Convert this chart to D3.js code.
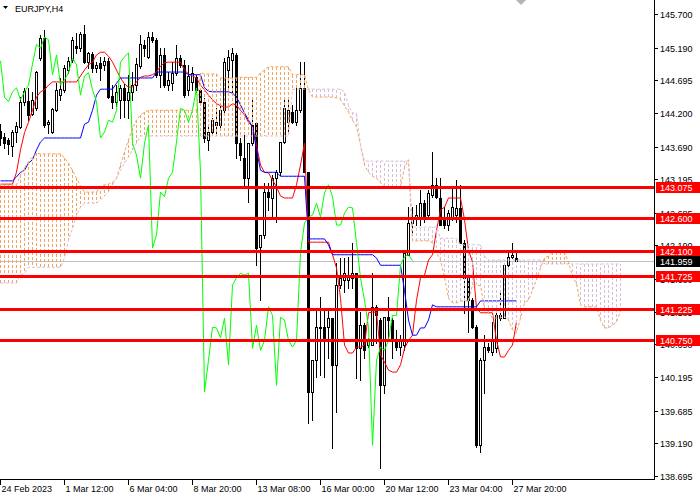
<!DOCTYPE html>
<html><head><meta charset="utf-8">
<script src="https://cdn.jsdelivr.net/npm/d3@7/dist/d3.min.js"></script>
<style>html,body{margin:0;padding:0;background:#fff;}svg{display:block;}text{font-family:"Liberation Sans",Arial,sans-serif;font-size:9px;}</style>
</head><body>
<svg id="chart" width="700" height="500"></svg>
<script>
const symbolTitle = "EURJPY,H4";
const open = [143.93,143.84,143.79,143.70,143.91,143.99,144.37,144.38,144.18,144.27,
 145.03,145.34,144.03,143.91,144.24,144.47,144.55,144.85,145.00,145.21,
 145.18,145.40,144.97,145.09,144.88,144.96,144.93,144.99,144.46,144.37,
 144.40,144.58,144.40,144.52,144.62,144.91,145.23,145.05,145.35,145.31,
 144.78,145.08,144.62,144.65,144.81,145.03,144.93,144.55,144.67,144.74,
 144.55,144.37,143.79,143.91,144.02,144.02,144.24,144.85,145.00,145.08,
 143.74,143.52,143.21,143.74,144.05,142.17,142.35,143.00,142.91,143.21,
 143.30,143.76,144.06,144.21,144.06,144.24,144.58,143.30,139.97,140.45,
 140.95,140.95,140.95,141.09,140.38,141.59,141.67,141.67,141.70,141.77,
 140.63,140.98,140.68,140.68,141.26,141.06,140.07,141.10,141.06,140.75,
 140.65,140.68,142.05,142.53,142.61,142.62,142.83,142.65,142.96,143.11,
 142.91,142.61,142.50,142.61,142.65,142.76,142.23,141.70,141.36,140.95,
 139.16,140.45,140.65,140.57,140.63,141.09,141.09,141.89,142.02,142.00];
const high = [144.03,143.90,143.82,143.94,144.06,144.44,144.58,144.58,144.52,144.84,
 145.38,145.46,144.09,144.27,144.65,144.73,144.93,145.05,145.35,145.41,
 145.43,145.53,145.12,145.12,144.97,145.05,145.05,145.03,144.62,144.62,
 144.62,144.64,144.78,144.82,145.03,145.38,145.31,145.43,145.43,145.34,
 145.18,145.18,144.82,144.97,145.23,145.08,145.00,144.93,144.90,144.78,
 144.58,144.43,144.02,144.12,144.27,144.32,145.03,145.15,145.18,145.11,
 143.82,143.87,143.74,144.40,144.06,142.35,143.14,143.14,143.26,143.33,
 143.76,144.43,144.40,144.32,144.58,144.97,144.97,143.30,140.45,141.21,
 141.41,141.24,141.21,141.09,141.92,142.00,142.00,142.02,142.23,141.77,
 141.18,141.01,140.79,141.77,141.29,141.09,141.10,141.41,141.09,140.91,
 140.83,142.08,142.77,142.77,142.80,143.03,142.88,143.03,143.61,143.21,
 143.21,142.77,142.73,143.08,143.18,143.11,142.27,141.70,141.39,140.98,
 140.48,140.83,140.71,141.03,141.17,141.51,141.89,142.09,142.23,142.08];
const low = [143.71,143.67,143.58,143.55,143.76,143.97,144.32,144.09,144.17,144.24,
 145.00,143.99,143.90,143.90,144.23,144.40,144.52,144.81,144.97,145.11,
 145.14,144.96,144.88,144.82,144.82,144.70,144.85,144.43,144.27,144.31,
 144.12,144.14,144.12,144.40,144.55,144.88,145.06,145.03,145.28,144.74,
 144.59,144.59,144.55,144.55,144.78,144.90,144.44,144.47,144.55,144.52,
 144.32,143.76,143.64,143.87,143.87,143.97,144.17,144.58,144.47,143.52,
 143.49,143.06,142.85,143.71,141.89,141.36,142.30,142.73,142.62,142.54,
 143.26,143.74,143.91,144.05,144.02,144.21,143.30,139.50,139.54,140.20,
 140.23,140.20,140.48,139.12,139.67,141.54,141.48,141.54,141.54,140.18,
 140.15,140.48,140.65,140.68,140.71,138.82,139.95,140.75,140.48,140.60,
 140.53,140.60,142.05,142.39,142.50,142.50,142.54,142.62,142.93,142.91,
 142.50,142.45,142.42,142.58,142.54,142.23,141.17,140.88,140.94,139.13,
 139.06,139.95,140.57,140.53,140.57,141.06,141.09,141.86,142.00,141.94];
const close = [143.82,143.74,143.73,143.91,144.00,144.37,144.53,144.17,144.40,144.82,
 145.34,144.02,144.06,144.26,144.55,144.56,144.88,144.99,145.31,145.18,
 145.40,144.97,145.11,144.88,144.93,144.88,144.99,144.44,144.37,144.52,
 144.58,144.40,144.52,144.62,144.94,145.24,145.18,145.35,145.31,144.78,
 145.08,144.62,144.70,144.81,145.03,144.93,144.47,144.76,144.81,144.55,
 144.37,143.82,143.91,144.09,144.06,144.24,144.97,145.05,145.11,143.74,
 143.56,143.21,143.74,144.02,142.15,142.35,143.00,142.93,143.21,143.30,
 143.76,144.27,144.24,144.06,144.24,144.58,143.30,139.97,140.45,140.95,
 140.94,140.79,141.09,140.38,141.59,141.70,141.77,141.74,141.77,140.63,
 140.98,140.60,140.75,141.26,141.13,140.07,141.10,141.06,140.75,140.65,
 140.75,142.08,142.53,142.62,142.65,142.83,142.62,142.99,143.11,142.93,
 142.50,142.50,142.68,142.77,142.76,142.23,141.70,141.36,140.95,139.16,
 140.45,140.65,140.60,140.75,141.13,141.13,141.89,142.02,142.05,141.959];
const tenkan = [143.12,143.12,143.12,143.12,143.30,143.64,143.90,144.06,144.24,144.44,
 144.52,144.55,144.62,144.67,144.67,144.67,144.67,144.67,144.67,144.67,
 144.76,144.85,144.93,144.97,145.08,145.12,145.12,145.06,144.97,144.85,
 144.73,144.64,144.59,144.59,144.67,144.74,144.76,144.76,144.78,144.82,
 144.91,144.96,144.97,144.97,144.97,144.97,144.85,144.79,144.76,144.73,
 144.62,144.55,144.47,144.40,144.34,144.31,144.29,144.29,144.34,144.32,
 144.24,144.17,144.06,143.99,143.71,143.41,143.30,143.29,143.18,143.08,
 142.94,142.91,142.91,142.91,143.11,143.41,143.74,142.24,142.24,142.24,
 142.24,142.24,142.24,142.05,141.85,141.39,140.68,140.56,140.56,140.65,
 140.65,140.68,141.17,141.18,141.18,140.53,140.42,140.30,140.27,140.27,
 140.38,140.63,140.75,140.83,141.36,141.70,141.74,141.97,142.05,142.42,
 142.73,142.77,142.91,142.91,142.91,142.91,142.58,142.12,141.94,141.24,
 141.17,141.17,141.17,141.17,140.75,140.50,140.50,140.60,140.68,141.03];
const kijun = [143.17,143.17,143.17,143.17,143.23,143.30,143.33,143.44,143.49,143.64,
 143.76,143.82,143.82,143.82,143.82,143.82,143.82,143.82,143.82,143.82,
 143.82,144.03,144.06,144.24,144.47,144.56,144.56,144.56,144.56,144.65,
 144.73,144.73,144.73,144.73,144.73,144.73,144.73,144.73,144.73,144.82,
 144.82,144.82,144.82,144.82,144.82,144.82,144.82,144.78,144.78,144.78,
 144.78,144.58,144.53,144.52,144.52,144.52,144.52,144.52,144.50,144.44,
 144.32,144.20,144.09,143.99,143.64,143.33,143.30,143.30,143.30,143.30,
 143.24,143.24,143.24,143.24,143.24,143.24,143.24,142.29,142.29,142.29,
 142.29,142.29,142.20,142.05,142.05,142.05,142.05,142.05,142.05,142.05,
 142.05,142.05,142.05,142.05,142.00,141.89,141.89,141.89,141.89,141.89,
 141.89,141.51,141.06,140.83,140.83,140.94,140.94,141.06,141.29,141.26,
 141.26,141.26,141.26,141.26,141.26,141.26,141.26,141.26,141.26,141.26,
 141.35,141.35,141.35,141.35,141.35,141.35,141.35,141.35,141.35,141.35];
const spanA = [143.11,143.11,143.11,143.11,143.11,143.26,143.37,143.46,143.53,143.59,
 143.58,143.58,143.58,143.58,143.58,143.58,143.52,143.44,143.33,143.21,
 143.09,143.00,143.00,143.00,143.00,143.09,143.11,143.12,143.15,143.21,
 143.41,143.61,143.79,143.97,144.09,144.17,144.21,144.24,144.24,144.24,
 144.24,144.24,144.24,144.24,144.24,144.24,144.24,144.24,144.24,144.24,
 144.81,144.79,144.79,144.79,144.79,144.73,144.73,144.73,144.73,144.73,
 144.74,144.74,144.74,144.74,144.74,144.81,144.85,144.90,144.90,144.90,
 144.90,144.90,144.90,144.78,144.78,144.78,144.78,144.55,144.44,144.44,
 144.44,144.44,144.44,144.44,144.43,144.40,144.31,144.21,144.09,143.99,
 143.71,143.41,143.30,143.24,143.21,143.14,143.09,143.08,143.08,143.08,
 143.08,143.37,143.49,142.26,142.26,142.26,142.26,142.26,142.23,142.08,
 141.97,141.71,141.39,141.32,141.32,141.35,141.35,141.35,141.59,141.59,
 141.58,141.24,141.17,141.09,141.09,141.09,141.12,141.06,140.91,140.86,
 141.09,141.32,141.36,141.51,141.67,141.85,142.00,142.03,142.09,142.09,
 142.09,142.09,141.94,141.71,141.61,141.29,141.26,141.26,141.26,141.26,
 141.06,140.94,140.94,140.98,141.03,141.20];
const spanB = [141.62,141.62,141.62,141.62,141.62,141.74,141.77,141.86,141.86,141.86,
 141.86,141.86,141.86,141.86,141.86,141.86,142.00,142.27,142.45,142.65,
 142.77,142.83,142.83,142.83,142.83,142.88,142.94,143.00,143.11,143.21,
 143.33,143.44,143.53,143.64,143.74,143.85,143.85,143.85,143.85,143.85,
 143.85,143.85,143.85,143.85,143.85,143.85,143.85,143.85,143.85,143.85,
 143.85,143.85,143.85,143.85,143.85,143.85,143.85,143.85,143.85,143.85,
 143.85,143.85,143.85,143.85,143.85,143.85,143.85,143.85,143.85,143.85,
 143.85,143.85,143.85,144.56,144.56,144.56,144.56,144.56,144.56,144.56,
 144.56,144.56,144.56,144.56,144.56,144.56,144.52,144.31,144.20,144.20,
 143.71,143.47,143.47,143.47,143.47,143.47,143.47,143.47,143.47,143.47,
 143.47,143.47,143.47,142.47,142.47,142.47,142.47,142.47,142.47,142.47,
 142.30,142.30,142.30,142.30,142.30,142.20,142.20,142.20,142.20,142.20,
 142.20,142.03,141.97,141.97,141.97,141.97,141.97,141.97,141.97,141.97,
 141.97,141.97,141.97,141.97,141.97,141.97,141.91,141.91,141.91,141.91,
 141.91,141.91,141.91,141.91,141.91,141.91,141.91,141.91,141.91,141.91,
 141.91,141.91,141.91,141.91,141.91,141.91];
const chikouShift = 26;
const levels = [143.075, 142.600, 142.100, 141.725, 141.225, 140.750];
const bid = 141.959;
const priceTicks = [145.700,145.190,144.695,144.200,143.690,143.195,142.685,142.190,141.680,141.185,140.690,140.195,139.685,139.190,138.695];
const timeTickBars = [0,16,32,48,64,80,96,112,128];
const timeLabels = ["24 Feb 2023","1 Mar 12:00","6 Mar 04:00","8 Mar 20:00","13 Mar 08:00","16 Mar 00:00","20 Mar 12:00","23 Mar 04:00","27 Mar 20:00"];

const svg = d3.select("#chart");
const plotW = 654, plotH = 479;
const x = d3.scaleLinear().domain([0, 1]).range([0.5, 4.5]);
const y = d3.scaleLinear().domain([138.695, 145.700]).range([476, 14]);
const fmt = d3.format(".3f");
const py = v => Math.round(y(v)) + 0.5;

svg.append("rect").attr("width",700).attr("height",500).attr("fill","#fff");
svg.append("defs").append("clipPath").attr("id","plot")
  .append("rect").attr("x",0).attr("y",0).attr("width",plotW).attr("height",plotH);
const plot = svg.append("g").attr("clip-path","url(#plot)");

// bid line
plot.append("line").attr("x1",0).attr("x2",plotW).attr("y1",py(bid)).attr("y2",py(bid))
  .attr("stroke","#c0c0c0").attr("stroke-width",1);

// candles
const bars = d3.range(close.length);
const cg = plot.append("g");
cg.selectAll("line").data(bars).join("line")
  .attr("x1",k=>x(k)).attr("x2",k=>x(k))
  .attr("y1",k=>Math.round(y(high[k]))).attr("y2",k=>Math.round(y(low[k]))+1)
  .attr("stroke","#000").attr("stroke-width",1);
cg.selectAll("rect").data(bars).join("rect").each(function(k){
  const top = Math.round(y(Math.max(open[k],close[k])));
  const bot = Math.round(y(Math.min(open[k],close[k])));
  const r = d3.select(this);
  if (close[k] < open[k]) {
    r.attr("x",x(k)-1.5).attr("y",top).attr("width",3).attr("height",Math.max(1,bot-top+1)).attr("fill","#000");
  } else {
    r.attr("x",x(k)-1).attr("y",top+0.5).attr("width",2).attr("height",Math.max(1,bot-top))
     .attr("fill","#fff").attr("stroke","#000").attr("stroke-width",1);
  }
});

const lineGen = arr => d3.line().x((d,i)=>x(i)).y(d=>y(d))(arr);

// tenkan / kijun
plot.append("path").attr("d",lineGen(tenkan)).attr("fill","none").attr("stroke","#ff0000").attr("stroke-width",1);
plot.append("path").attr("d",lineGen(kijun)).attr("fill","none").attr("stroke","#0000ff").attr("stroke-width",1);

// cloud histogram
const cloudBars = d3.range(spanA.length);
plot.append("g").selectAll("line").data(cloudBars).join("line")
  .attr("x1",k=>x(k)).attr("x2",k=>x(k))
  .attr("y1",k=>Math.round(y(spanA[k]))).attr("y2",k=>Math.round(y(spanB[k])))
  .attr("stroke",k=>spanA[k]>=spanB[k] ? "#F4A460" : "#D8BFD8")
  .attr("stroke-width",1).attr("stroke-dasharray","3,2");

// chikou
const chikouIdx = d3.range(chikouShift, close.length);
plot.append("path")
  .attr("d", d3.line().x(k=>x(k-chikouShift)).y(k=>y(close[k]))(chikouIdx))
  .attr("fill","none").attr("stroke","#00ff00").attr("stroke-width",1);

// span lines
plot.append("path").attr("d",lineGen(spanA)).attr("fill","none").attr("stroke","#F4A460").attr("stroke-width",1).attr("stroke-dasharray","3,2");
plot.append("path").attr("d",lineGen(spanB)).attr("fill","none").attr("stroke","#D8BFD8").attr("stroke-width",1).attr("stroke-dasharray","3,2");

// horizontal levels
plot.append("g").selectAll("line").data(levels).join("line")
  .attr("x1",0).attr("x2",plotW).attr("y1",d=>py(d)).attr("y2",d=>py(d))
  .attr("stroke","#ff0000").attr("stroke-width",3);

// axes
svg.append("line").attr("x1",654.5).attr("x2",654.5).attr("y1",0).attr("y2",480).attr("stroke","#000");
svg.append("line").attr("x1",0).attr("x2",655).attr("y1",479.5).attr("y2",479.5).attr("stroke","#000");

const pt = svg.append("g");
pt.selectAll("line").data(priceTicks).join("line")
  .attr("x1",654).attr("x2",658).attr("y1",d=>py(d)).attr("y2",d=>py(d)).attr("stroke","#000");
pt.selectAll("text").data(priceTicks).join("text")
  .attr("x",660).attr("y",d=>Math.round(y(d))+4).attr("fill","#000").text(d=>fmt(d));

const tt = svg.append("g");
tt.selectAll("line").data(timeTickBars).join("line")
  .attr("x1",k=>x(k)).attr("x2",k=>x(k)).attr("y1",480).attr("y2",485).attr("stroke","#000");
tt.selectAll("text").data(timeTickBars).join("text")
  .attr("x",k=>x(k)+1).attr("y",492).attr("fill","#000").text((k,i)=>timeLabels[i]);

// level labels
const lg = svg.append("g");
lg.selectAll("rect").data(levels).join("rect")
  .attr("x",656).attr("y",d=>Math.round(y(d))-5).attr("width",44).attr("height",11).attr("fill","#ff0000");
lg.selectAll("text").data(levels).join("text")
  .attr("x",660).attr("y",d=>Math.round(y(d))+4).attr("fill","#fff").text(d=>fmt(d));
// bid label
svg.append("rect").attr("x",656).attr("y",Math.round(y(bid))-5).attr("width",44).attr("height",11).attr("fill","#000");
svg.append("text").attr("x",660).attr("y",Math.round(y(bid))+4).attr("fill","#fff").text(fmt(bid));

// title
svg.append("path").attr("d","M3,6 L8,6 L5.5,9 Z").attr("fill","#000");
svg.append("text").attr("x",15).attr("y",12).attr("fill","#000").text(symbolTitle);
// shift marker
svg.append("path").attr("d","M516,0 L526,0 L521,5 Z").attr("fill","#b4b4b4");
</script>
</body></html>
